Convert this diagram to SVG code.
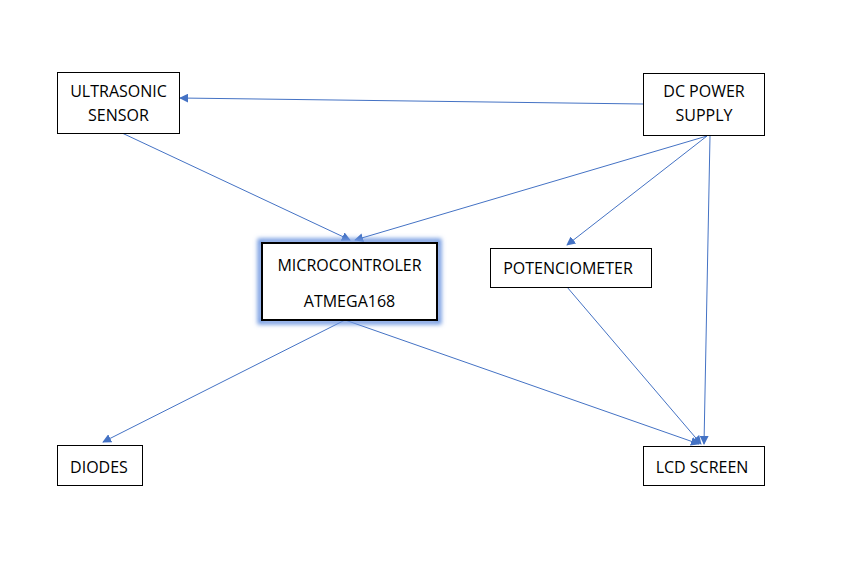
<svg xmlns="http://www.w3.org/2000/svg" width="843" height="562" viewBox="0 0 843 562">
<defs>
<marker id="ah" viewBox="0 0 10 10" refX="9" refY="5" markerWidth="9" markerHeight="9" markerUnits="userSpaceOnUse" orient="auto">
<path d="M0,0 L10,5 L0,10 z" fill="#4472C4"/>
</marker>
<filter id="glow" x="-10%" y="-20%" width="120%" height="140%">
<feGaussianBlur stdDeviation="2"/>
</filter>
</defs>
<style>
.box{fill:#fff;stroke:#000;stroke-width:1}
.t{font-family:"Open Sans","Liberation Sans",sans-serif;font-size:16px;fill:#000;text-anchor:middle}
.c line{stroke:#4472C4;stroke-width:1;marker-end:url(#ah)}
</style>
<rect width="843" height="562" fill="#fff"/>
<g class="c" id="connectors">
<line x1="643" y1="104" x2="180" y2="98"/>
<line x1="122" y1="133" x2="350" y2="240"/>
<line x1="707" y1="136" x2="355" y2="240"/>
<line x1="707" y1="136" x2="567" y2="245"/>
<line x1="710" y1="136" x2="704" y2="444"/>
<line x1="567" y1="287" x2="701" y2="444"/>
<line x1="345" y1="320" x2="103" y2="442"/>
<line x1="345" y1="320" x2="699" y2="444"/>
</g>
<g id="ultrasonic">
<rect class="box" x="57.5" y="72.5" width="122" height="61"/>
<text class="t" x="118.5" y="97">ULTRASONIC</text>
<text class="t" x="118.5" y="121">SENSOR</text>
</g>
<g id="dcpower">
<rect class="box" x="643.5" y="73.5" width="121" height="62"/>
<text class="t" x="704" y="97">DC POWER</text>
<text class="t" x="704" y="121">SUPPLY</text>
</g>
<g id="micro">
<rect x="260" y="241" width="179" height="81" fill="none" stroke="#6F97E0" stroke-width="5" filter="url(#glow)"/>
<rect x="262" y="243" width="175" height="77" fill="#fff" stroke="#000" stroke-width="2"/>
<text class="t" x="349.5" y="271">MICROCONTROLER</text>
<text class="t" x="349.5" y="307">ATMEGA168</text>
</g>
<g id="potenciometer">
<rect class="box" x="490.5" y="248.5" width="161" height="39"/>
<text class="t" x="568" y="274">POTENCIOMETER</text>
</g>
<g id="diodes">
<rect class="box" x="57.5" y="445.5" width="85" height="40"/>
<text class="t" x="99" y="473">DIODES</text>
</g>
<g id="lcd">
<rect class="box" x="643.5" y="446.5" width="121" height="39"/>
<text class="t" x="702" y="473">LCD SCREEN</text>
</g>
</svg>
